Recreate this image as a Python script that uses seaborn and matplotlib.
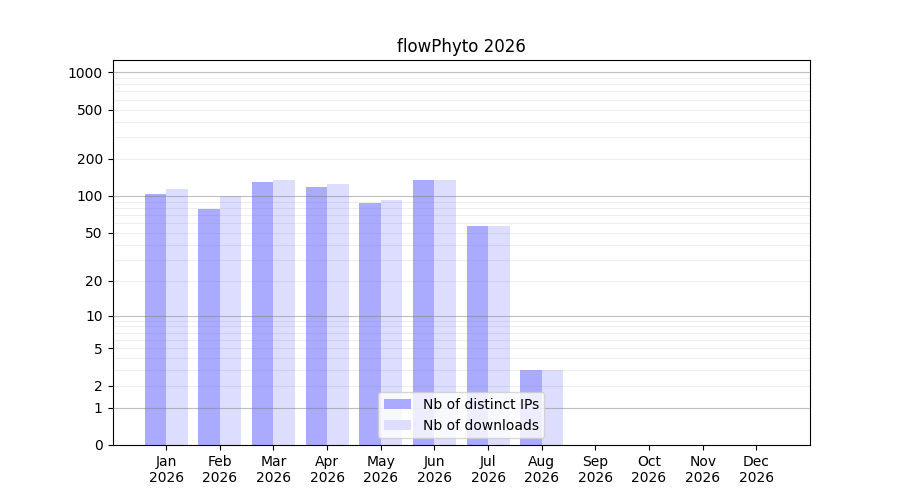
import numpy as np
import pandas as pd
import matplotlib
matplotlib.use("Agg")
import matplotlib.pyplot as plt
import seaborn as sns

months = ["Jan", "Feb", "Mar", "Apr", "May", "Jun", "Jul", "Aug", "Sep", "Oct", "Nov", "Dec"]
year = "2026"
distinct_ips = [103, 78, 131, 119, 87, 134, 57, 3, 0, 0, 0, 0]
downloads = [115, 100, 134, 126, 92, 134, 57, 3, 0, 0, 0, 0]
series_names = ["Nb of distinct IPs", "Nb of downloads"]
colors = ["#aaaaff", "#ddddff"]
ytick_values = [0, 1, 2, 5, 10, 20, 50, 100, 200, 500, 1000]
decades = [1, 10, 100, 1000]
minor_values = [m * d for d in [1, 10, 100] for m in range(1, 10)] + [1000]

labels = [f"{m}\n{year}" for m in months]
df = pd.DataFrame({
    "month": labels * 2,
    "value": distinct_ips + downloads,
    "series": [series_names[0]] * 12 + [series_names[1]] * 12,
})

fig, ax = plt.subplots(figsize=(9, 5), dpi=100)
sns.barplot(data=df, x="month", y="value", hue="series", palette=colors,
            saturation=1, width=0.8, ax=ax, errorbar=None)

ax.set_yscale("function", functions=(lambda x: np.log10(np.maximum(x, 0) + 1),
                                      lambda y: 10 ** y - 1))
ax.set_ylim(0, 1255)
ax.set_xlim(-1, 12)
ax.set_yticks(ytick_values)
ax.set_yticklabels([str(v) for v in ytick_values])
ax.set_yticks(minor_values, minor=True)
ax.tick_params(axis="y", which="minor", length=0)
ax.yaxis.remove_overlapping_locs = False
ax.grid(False)
ax.set_axisbelow(False)
for t, v in zip(ax.yaxis.get_minor_ticks(), minor_values):
    t.gridline.set_visible(True)
    if v in decades:
        t.gridline.set_color("gray")
        t.gridline.set_alpha(0.5)
    else:
        t.gridline.set_color("gray")
        t.gridline.set_alpha(0.13)
    t.gridline.set_linewidth(0.8)
ax.yaxis.grid(True, which="minor")
for t, v in zip(ax.yaxis.get_minor_ticks(), minor_values):
    t.gridline.set_color("gray")
    t.gridline.set_alpha(0.5 if v in decades else 0.13)

ax.set_xlabel("")
ax.set_ylabel("")
ax.set_title("flowPhyto 2026")
ax.legend(loc="lower center", title=None)
fig.savefig("out.png", dpi=100)
